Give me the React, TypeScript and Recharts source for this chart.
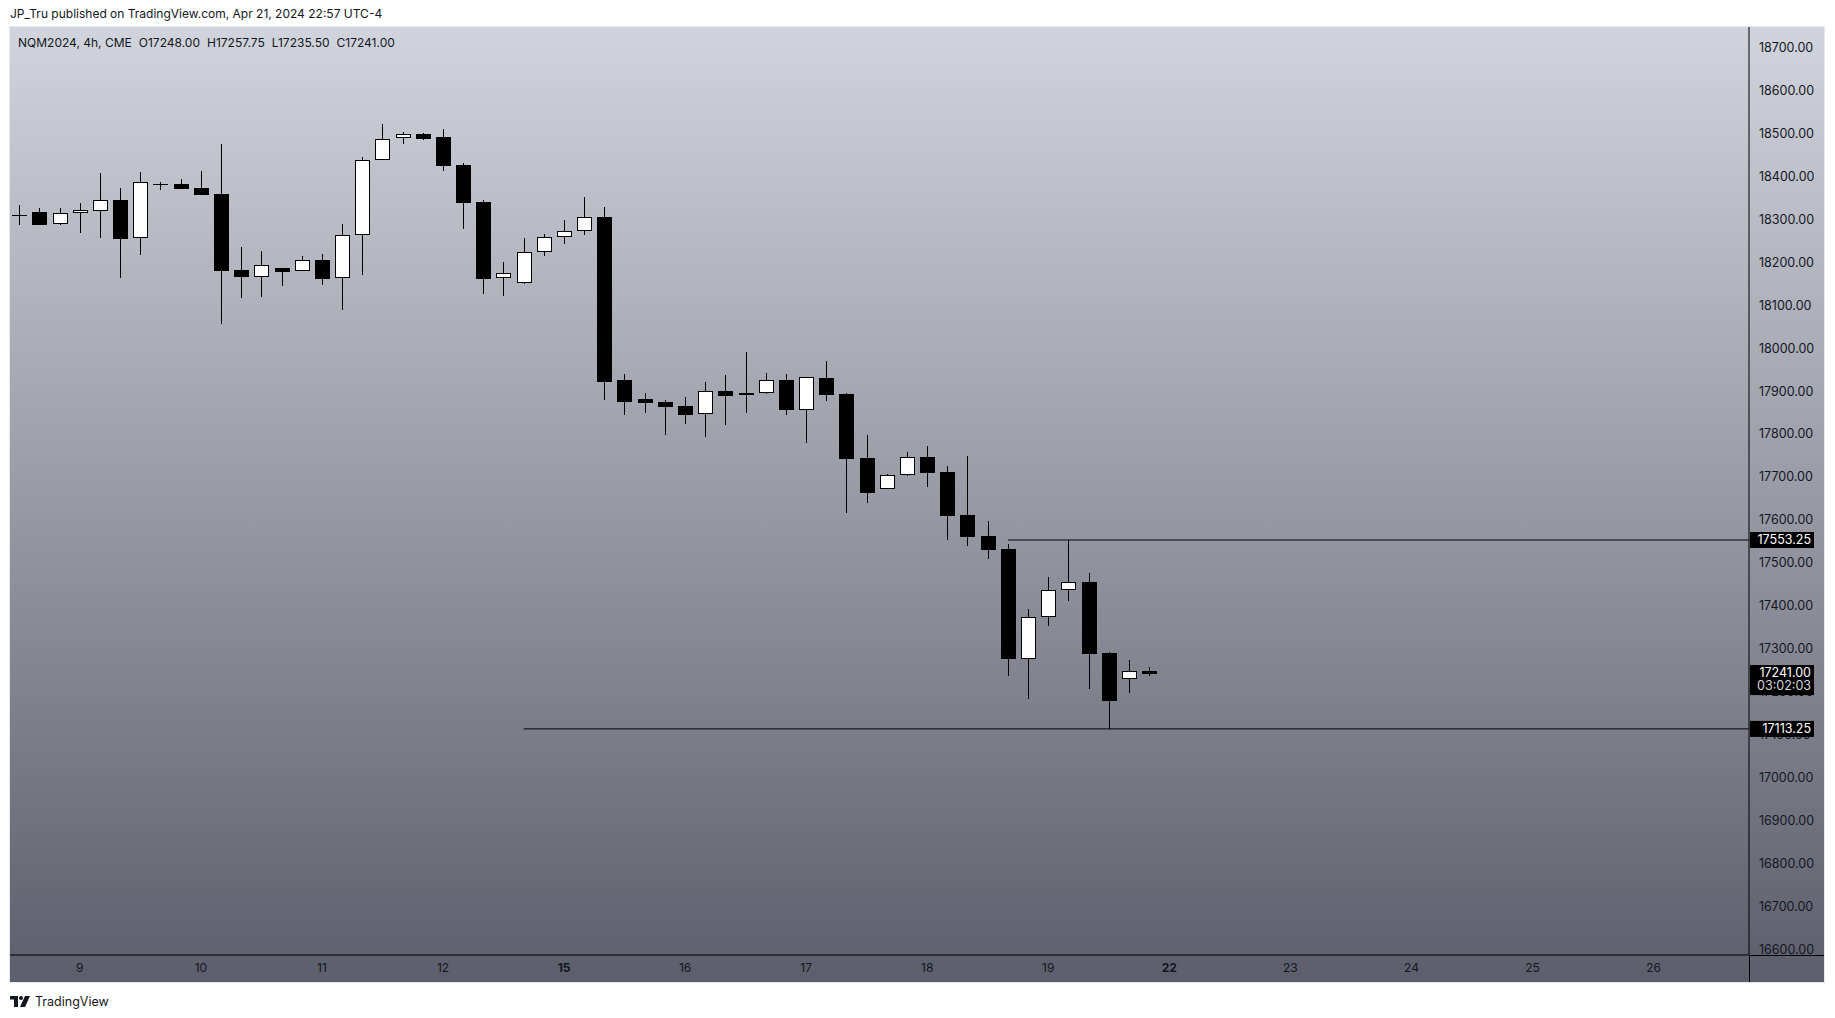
import React from 'react';
import { ComposedChart, Bar, XAxis, YAxis, ReferenceLine } from 'recharts';

// ---- data (4h bars, NQM2024) ----
const opens = [
  18311, 18316.5, 18288.5, 18314.25, 18319, 18345.25, 18256, 18382, 18381.75, 18372.5,
  18358.5, 18181.5, 18165, 18186, 18179, 18204.75, 18162.75, 18263, 18437.75, 18489,
  18498.25, 18492, 18426, 18339.75, 18162.75, 18152.75, 18223.25, 18258.25, 18272.25, 18305,
  17925.25, 17881, 17874, 17864.5, 17846, 17899.5, 17890.25, 17896.5, 17925.25, 17856.75,
  17930, 17893.25, 17744.25, 17671.25, 17705.5, 17746.5, 17711.5, 17611.5, 17562.5, 17532.25,
  17275.25, 17373, 17436, 17454.5, 17290, 17228.5, 17248,
];
const highs = [
  18333, 18325.75, 18325.75, 18337.5, 18407.5, 18372.5, 18410.5, 18386.5, 18394.25, 18412.75,
  18475.75, 18235.75, 18226.5, 18186, 18214.75, 18219.5, 18288.5, 18446.25, 18522.25, 18503,
  18500.5, 18510, 18430.75, 18345.25, 18200, 18256, 18265.25, 18298.5, 18352.25, 18329,
  17940, 17895.75, 17878.5, 17886.25, 17920.5, 17936.75, 17990.5, 17941.5, 17939.25, 17932.25,
  17970, 17895.5, 17797.75, 17706.25, 17758.25, 17772.25, 17725.5, 17749, 17597.5, 17544,
  17392.5, 17467, 17553.25, 17475.5, 17292.25, 17273.75, 17257.75,
];
const lows = [
  18288, 18287.75, 18288, 18269.25, 18257.5, 18164.25, 18218, 18368.5, 18371.75, 18357.75,
  18057.25, 18117.75, 18120, 18145.75, 18179, 18148, 18089.75, 18171.25, 18437.75, 18476.5,
  18485.75, 18413.5, 18278.5, 18127, 18122.5, 18150.25, 18215.5, 18243.5, 18264.5, 17880,
  17845.25, 17849.75, 17798.5, 17824.25, 17794, 17822, 17849.75, 17894, 17845.25, 17780,
  17877.75, 17617, 17640.25, 17671.25, 17703, 17677.5, 17554, 17540, 17509.75, 17237.25,
  17183.5, 17353.5, 17412, 17207, 17113.25, 17197.5, 17235.5,
];
const closes = [
  18310, 18287.75, 18314.25, 18321.25, 18344.5, 18255.25, 18386.5, 18381.25, 18371.75, 18357.75,
  18180.5, 18166.75, 18193, 18178.25, 18204.75, 18162, 18263, 18437.75, 18486.5, 18498.25,
  18488, 18425.25, 18339, 18162, 18174.5, 18223.25, 18258.25, 18272.25, 18305, 17922,
  17875.5, 17873, 17863.75, 17845.25, 17899.5, 17889.5, 17895, 17925.25, 17856.75, 17932.25,
  17891.75, 17742.75, 17663.5, 17703.75, 17746.5, 17710, 17610, 17561, 17530.75, 17276.75,
  17373, 17436, 17454.5, 17288.5, 17179, 17247.25, 17241,
];

const dayLabels = ['9', '10', '11', '12', '15', '16', '17', '18', '19', '22', '23', '24', '25', '26'];
const dayTickBars = [3, 9, 15, 21, 27, 33, 39, 45, 51, 57, 63, 69, 75, 81];
const weekStartDays = ['15', '22'];
const priceTicks = [
  16600, 16700, 16800, 16900, 17000, 17100, 17200, 17300, 17400, 17500, 17600,
  17700, 17800, 17900, 18000, 18100, 18200, 18300, 18400, 18500, 18600, 18700,
];
const xDomain = [-0.461, 85.73];
const yDomain = [16586.6, 18748.2];

const resistanceLevel = 17553.25;
const resistanceFromBar = 49;
const supportLevel = 17113.25;
const supportFromBar = 25;
const countdownText = '03:02:03';
const symbolText = 'NQM2024, 4h, CME';
const publishText = 'JP_Tru published on TradingView.com, Apr 21, 2024 22:57 UTC-4';

const data = opens.map((o, i) => ({ i, open: o, high: highs[i], low: lows[i], close: closes[i] }));
const lastBar = data[data.length - 1];

const FONT = 'Inter, "Noto Sans", "Liberation Sans", sans-serif';
const TEXT = '#131722';

const Candle = (props: any) => {
  const { x, y, width, height, payload } = props;
  if (!payload) return null;
  const { open, high, low, close } = payload;
  const top = Math.min(y, y + height);
  const h = Math.abs(height);
  const ratio = h / (high - low);
  const yOf = (v: number) => top + (high - v) * ratio;
  const cx = Math.floor(x + width / 2) + 0.5;
  const up = close >= open;
  const T = Math.round(yOf(Math.max(open, close)));
  const B = Math.round(yOf(Math.min(open, close)));
  const yH = Math.round(yOf(high));
  const yL = Math.round(yOf(low));
  const half = 7;
  return (
    <g>
      <line x1={cx} x2={cx} y1={yH} y2={yL} stroke="#000" strokeWidth={1} shapeRendering="crispEdges" />
      {B - T - 1 > 0 ? (
        <rect
          x={cx - half}
          y={T + 0.5}
          width={half * 2}
          height={B - T - 1}
          fill={up ? '#ffffff' : '#000000'}
          stroke="#000"
          strokeWidth={1}
        />
      ) : (
        <rect x={cx - half - 0.5} y={T} width={half * 2 + 1} height={Math.max(B - T, 1)} fill="#000" />
      )}
    </g>
  );
};

const DayTick = (props: any) => {
  const { x, y, payload } = props;
  const k = dayTickBars.indexOf(payload.value);
  const label = dayLabels[k] ?? '';
  const bold = weekStartDays.includes(label);
  return (
    <text x={x} y={y} dy="0.71em" textAnchor="middle" fill={TEXT} fontSize={12} fontFamily={FONT} fontWeight={bold ? 700 : 400}>
      {label}
    </text>
  );
};

// price scale label, drawn at the right of the plot (on the price axis)
const PriceLabel = (text: string) => (p: any) => {
  const vb = p.viewBox || {};
  const x = vb.x + vb.width + 10;
  return (
    <text x={x} y={vb.y} dy="0.35em" textAnchor="start" fill={TEXT} fontSize={12.5} fontFamily={FONT}>
      {text}
    </text>
  );
};

const AxisBox = (text: string, sub?: string) => (p: any) => {
  const vb = p.viewBox || {};
  const rx = vb.x + vb.width + 1;
  const cy = vb.y;
  if (sub) {
    return (
      <g>
        <rect x={rx} y={cy - 9} width={64} height={30} fill="#000" />
        <text x={rx + 61} y={cy - 1} dy="0.35em" textAnchor="end" fill="#fff" fontSize={12.5} fontFamily={FONT}>{text}</text>
        <text x={rx + 61} y={cy + 12} dy="0.35em" textAnchor="end" fill="#d8d8d8" fontSize={12.5} fontFamily={FONT}>{sub}</text>
      </g>
    );
  }
  return (
    <g>
      <rect x={rx} y={cy - 8} width={64} height={16} fill="#000" />
      <text x={rx + 61} y={cy} dy="0.35em" textAnchor="end" fill="#fff" fontSize={12.5} fontFamily={FONT}>{text}</text>
    </g>
  );
};

const TvLogo = () => (
  <svg width={20} height={12} viewBox="0 0 20 12">
    <rect x={0} y={0} width={8} height={3.5} fill={TEXT} />
    <rect x={4} y={0} width={4} height={11} fill={TEXT} />
    <circle cx={11} cy={2} r={2} fill={TEXT} />
    <polygon points="15,0 20,0 15,11 10,11" fill={TEXT} />
  </svg>
);

export default function App() {
  const W = 1814;
  const H = 955;
  return (
    <div style={{ position: 'absolute', left: 0, top: 0, width: 1835, height: 1018, background: '#ffffff', overflow: 'hidden', fontFamily: FONT }}>
      <div style={{ position: 'absolute', left: 10, top: 6, fontSize: 12, color: TEXT, whiteSpace: 'nowrap' }}>{publishText}</div>
      <div
        style={{
          position: 'absolute',
          left: 10,
          top: 27,
          width: W,
          height: H,
          background: 'linear-gradient(to bottom, #d1d4dc 0%, #5d5e6b 100%)',
          boxShadow: '0 0 0 1px #e6e8ee',
        }}
      >
        <ComposedChart width={W} height={H} data={data} margin={{ top: 0, right: 0, bottom: 0, left: 0 }}>
          <XAxis
            dataKey="i"
            type="number"
            domain={xDomain}
            allowDataOverflow
            ticks={dayTickBars}
            interval={0}
            tick={<DayTick />}
            tickLine={false}
            tickSize={0}
            tickMargin={8}
            axisLine={{ stroke: '#000', strokeWidth: 1 }}
            height={27}
          />
          <YAxis
            orientation="right"
            type="number"
            domain={yDomain}
            allowDataOverflow
            ticks={priceTicks}
            tick={false}
            tickLine={false}
            axisLine={{ stroke: '#000', strokeWidth: 1 }}
            width={75}
          />
          <Bar dataKey={(d: any) => [d.low, d.high]} barSize={15} shape={<Candle />} isAnimationActive={false} />
          {priceTicks.map((t) => (
            <ReferenceLine
              key={t}
              y={t}
              stroke="none"
              strokeWidth={0}
              ifOverflow="visible"
              label={PriceLabel(t.toFixed(2))}
            />
          ))}
          <ReferenceLine
            segment={[{ x: resistanceFromBar, y: resistanceLevel }, { x: xDomain[1], y: resistanceLevel }]}
            stroke="#000"
            strokeWidth={1}
            ifOverflow="visible"
            label={AxisBox(resistanceLevel.toFixed(2))}
          />
          <ReferenceLine
            segment={[{ x: supportFromBar, y: supportLevel }, { x: xDomain[1], y: supportLevel }]}
            stroke="#000"
            strokeWidth={1}
            ifOverflow="visible"
            label={AxisBox(supportLevel.toFixed(2))}
          />
          <ReferenceLine
            y={lastBar.close}
            stroke="none"
            strokeWidth={0}
            ifOverflow="visible"
            label={AxisBox(lastBar.close.toFixed(2), countdownText)}
          />
        </ComposedChart>
        <div style={{ position: 'absolute', left: 1739, top: 928, width: 75, height: 1, background: '#000' }} />
        <div style={{ position: 'absolute', left: 1739, top: 928, width: 1, height: 27, background: '#000' }} />
        <div style={{ position: 'absolute', left: 8, top: 8, fontSize: 12, color: TEXT, whiteSpace: 'nowrap', display: 'flex', gap: 7 }}>
          <span>{symbolText}</span>
          <span>O{lastBar.open.toFixed(2)}</span>
          <span>H{lastBar.high.toFixed(2)}</span>
          <span>L{lastBar.low.toFixed(2)}</span>
          <span>C{lastBar.close.toFixed(2)}</span>
        </div>
      </div>
      <div style={{ position: 'absolute', left: 10, top: 994, display: 'flex', alignItems: 'center', gap: 5, fontSize: 12.5, color: TEXT }}>
        <TvLogo />
        <span>TradingView</span>
      </div>
    </div>
  );
}
